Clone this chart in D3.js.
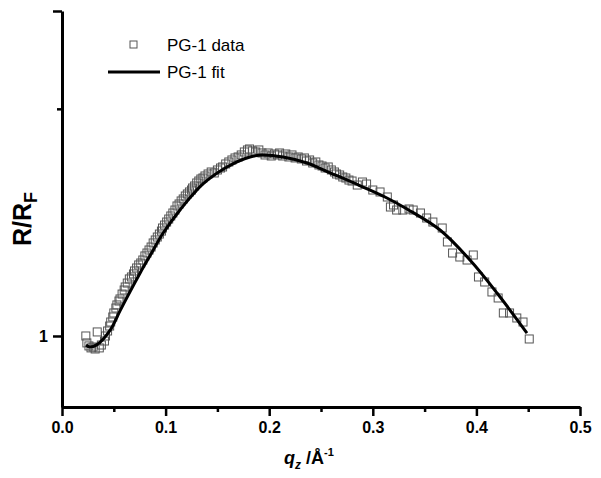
<!DOCTYPE html>
<html lang="en">
<head>
<meta charset="UTF-8">
<title>PG-1 reflectivity</title>
<script src="https://d3js.org/d3.v7.min.js"></script>
<style>
  body { margin: 0; background: #fff; }
  svg { display: block; font-family: Arial, "Liberation Sans", sans-serif; }
</style>
</head>
<body>
<svg id="chart" width="601" height="478"></svg>
<script>
// measured data (q_z in 1/Å, R/RF)
const dataQ = [0.023,0.024,0.026,0.028,0.030,0.032,0.034,0.036,0.038,0.041,0.042,0.044,0.046,0.047,0.049,0.050,0.052,0.053,0.055,0.056,
  0.058,0.060,0.061,0.063,0.065,0.067,0.069,0.070,0.072,0.074,0.076,0.078,0.080,0.082,0.084,0.086,0.088,0.090,0.092,0.094,
  0.096,0.097,0.099,0.101,0.103,0.105,0.107,0.109,0.111,0.113,0.115,0.117,0.119,0.121,0.123,0.125,0.126,0.128,0.130,0.132,
  0.134,0.136,0.138,0.141,0.144,0.147,0.150,0.153,0.155,0.158,0.161,0.164,0.167,0.170,0.173,0.176,0.179,0.181,0.184,0.187,
  0.190,0.193,0.196,0.199,0.202,0.205,0.208,0.210,0.213,0.216,0.219,0.222,0.225,0.228,0.231,0.234,0.236,0.239,0.242,0.245,
  0.248,0.251,0.254,0.257,0.260,0.263,0.265,0.268,0.271,0.274,0.277,0.280,0.285,0.290,0.294,0.300,0.307,0.314,0.317,0.320,
  0.323,0.329,0.335,0.339,0.346,0.352,0.358,0.367,0.372,0.377,0.384,0.391,0.397,0.402,0.408,0.415,0.421,0.426,0.432,0.439,
  0.445,0.451];
const dataR = [1.000,0.952,0.932,0.919,0.925,0.912,1.029,0.919,0.938,0.965,1.000,1.036,1.073,1.104,1.144,1.177,1.219,1.246,1.281,1.300,
  1.346,1.385,1.415,1.455,1.498,1.519,1.552,1.585,1.619,1.654,1.677,1.713,1.763,1.800,1.839,1.878,1.933,1.974,2.016,2.059,
  2.103,2.149,2.195,2.242,2.290,2.340,2.390,2.441,2.512,2.548,2.603,2.640,2.696,2.735,2.774,2.813,2.853,2.894,2.956,2.998,
  3.041,3.063,3.107,3.151,3.196,3.174,3.242,3.288,3.312,3.383,3.431,3.480,3.530,3.555,3.606,3.683,3.736,3.762,3.710,3.683,
  3.736,3.657,3.606,3.657,3.580,3.631,3.606,3.657,3.580,3.631,3.555,3.606,3.530,3.555,3.505,3.530,3.455,3.480,3.407,3.431,
  3.359,3.335,3.288,3.312,3.242,3.196,3.151,3.129,3.085,3.063,3.019,2.998,2.914,2.977,2.935,2.813,2.774,2.677,2.494,2.530,
  2.441,2.441,2.459,2.441,2.390,2.307,2.242,2.149,1.947,1.800,1.750,1.713,1.775,1.519,1.466,1.366,1.309,1.177,1.177,1.136,
  1.104,0.979];

// fit curve
const fitQ = [0.0232,0.0270,0.0347,0.0463,0.0560,0.0660,0.0753,0.0849,0.0975,0.1139,0.1361,0.1593,0.1815,0.1940,0.2133,0.2365,
  0.2587,0.2683,0.2905,0.3118,0.3330,0.3649,0.3938,0.4199,0.4488];
const fitR = [0.938,0.925,0.945,1.040,1.195,1.375,1.560,1.765,2.070,2.442,2.936,3.311,3.554,3.605,3.554,3.407,
  3.174,3.085,2.873,2.677,2.459,2.119,1.713,1.356,1.021];

const xTicks = [0, 0.1, 0.2, 0.3, 0.4, 0.5];
const xMinor = [0.05, 0.15, 0.25, 0.35, 0.45];
const yTicks = [1, 10];
const yMinor = [5];

const svg = d3.select("#chart");
const x = d3.scaleLinear().domain([0, 0.5]).range([62, 580]);
const y = d3.scaleLog().domain([0.6046, 10]).range([407, 11]);

// axes
const axisStyle = g => {
  g.select(".domain").attr("stroke-width", 3);
  g.selectAll(".tick line").attr("stroke-width", 2.5);
  g.selectAll("text").attr("font-weight", "bold").attr("font-size", 16)
    .attr("font-family", "Arial, 'Liberation Sans', sans-serif").attr("fill", "#000");
};

svg.append("g").attr("transform", "translate(0,407)")
  .call(d3.axisBottom(x).tickValues(xMinor).tickSize(5).tickSizeOuter(0).tickFormat(""))
  .call(g => g.select(".domain").remove())
  .call(axisStyle);
svg.append("g").attr("transform", "translate(0,407)")
  .call(d3.axisBottom(x).tickValues(xTicks).tickSize(9).tickSizeOuter(0).tickPadding(6).tickFormat(d3.format(".1f")))
  .call(axisStyle);

svg.append("g").attr("transform", "translate(62,0)")
  .call(d3.axisLeft(y).tickValues(yMinor).tickSize(5).tickSizeOuter(0).tickFormat(""))
  .call(g => g.select(".domain").remove())
  .call(axisStyle);
svg.append("g").attr("transform", "translate(62,0)")
  .call(d3.axisLeft(y).tickValues(yTicks).tickSize(9).tickSizeOuter(0).tickPadding(5)
    .tickFormat(d => d === 1 ? "1" : ""))
  .call(axisStyle);

// axis titles
const xl = svg.append("text").attr("x", 284).attr("y", 464)
  .attr("font-size", 18).attr("font-weight", "bold");
xl.append("tspan").attr("font-style", "italic").text("q");
xl.append("tspan").attr("font-style", "italic").attr("font-size", 12).attr("dy", 5).text("z");
xl.append("tspan").attr("dy", -5).text(" /Å");
xl.append("tspan").attr("font-size", 11).attr("dy", -8).text("-1");

const yl = svg.append("text").attr("transform", "translate(31,246) rotate(-90)")
  .attr("font-size", 25).attr("font-weight", "bold");
yl.append("tspan").text("R/R");
yl.append("tspan").attr("font-size", 18).attr("dy", 6).text("F");

// data squares
const s = 8;
svg.append("g").selectAll("rect").data(dataQ).join("rect")
  .attr("x", (d, i) => x(d) - s / 2)
  .attr("y", (d, i) => y(dataR[i]) - s / 2)
  .attr("width", s).attr("height", s)
  .attr("fill", "none").attr("stroke", "#555").attr("stroke-width", 1);

// fit line
const line = d3.line().x(d => x(d[0])).y(d => y(d[1])).curve(d3.curveCatmullRom.alpha(0.5));
svg.append("path").datum(d3.zip(fitQ, fitR))
  .attr("d", line).attr("fill", "none").attr("stroke", "#000").attr("stroke-width", 3);

// legend
const lg = svg.append("g").attr("font-size", 17);
lg.append("rect").attr("x", 130).attr("y", 41).attr("width", 7).attr("height", 7)
  .attr("fill", "none").attr("stroke", "#555").attr("stroke-width", 1);
lg.append("text").attr("x", 167).attr("y", 51).text("PG-1 data");
lg.append("line").attr("x1", 108).attr("x2", 160).attr("y1", 72).attr("y2", 72)
  .attr("stroke", "#000").attr("stroke-width", 3);
lg.append("text").attr("x", 167).attr("y", 78).text("PG-1 fit");
</script>
</body>
</html>
